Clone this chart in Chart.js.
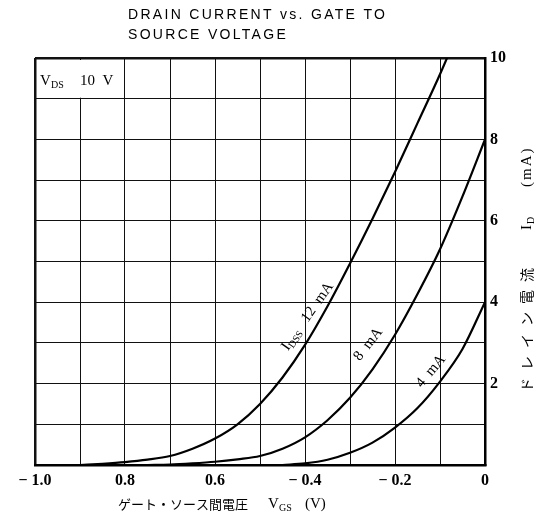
<!DOCTYPE html>
<html>
<head>
<meta charset="utf-8">
<script src="https://cdn.jsdelivr.net/npm/chart.js@4/dist/chart.umd.min.js"></script>
<style>
  html, body { margin: 0; padding: 0; background: #fff; }
  #wrap { width: 539px; height: 517px; }
</style>
</head>
<body>
<div id="wrap"><canvas id="myChart" width="539" height="517"></canvas></div>
<script>
// gate-source voltage (V) and drain current (mA)
const vgs = [-1.0, -0.95, -0.9, -0.85, -0.8, -0.75, -0.7, -0.65, -0.6, -0.55, -0.5,
  -0.45, -0.4, -0.35, -0.3, -0.25, -0.2, -0.15, -0.1, -0.05, 0];
const id12 = [null, null, 0, 0.03, 0.07, 0.13, 0.22, 0.4, 0.65, 1.0, 1.5,
  2.15, 2.95, 3.9, 4.95, 6.05, 7.2, 8.4, 9.6, 10.9, null];
const id8 = [null, null, null, null, null, 0, 0.01, 0.04, 0.08, 0.14, 0.22,
  0.4, 0.68, 1.1, 1.65, 2.35, 3.2, 4.2, 5.3, 6.6, 8.0];
const id4 = [null, null, null, null, null, null, null, null, null, null, null,
  0, 0.04, 0.13, 0.3, 0.55, 0.92, 1.4, 2.05, 2.85, 4.0];

const xTickLabels = { "-1.0": "\u2212 1.0", "-0.8": "0.8", "-0.6": "0.6", "-0.4": "\u2212 0.4", "-0.2": "\u2212 0.2", "0.0": "0" };
const yTickLabels = ["", "", "2", "", "4", "", "6", "", "8", "", "10"];

const serif = "'Liberation Serif', 'DejaVu Serif', serif";
const jp = "'Noto Sans CJK JP', sans-serif";

const toPoints = (ys) => vgs.map((v, i) => ({ x: v, y: ys[i] })).filter((p) => p.y !== null);

const curve = (label, ys) => ({
  label: label,
  data: toPoints(ys),
  borderColor: "#000",
  borderWidth: 2.2,
  pointRadius: 0,
  fill: false,
  cubicInterpolationMode: "monotone",
});

// text drawn on top: title, axis names, curve labels
const textPlugin = {
  id: "texts",
  afterDraw(chart) {
    const ctx = chart.ctx;
    const xs = chart.scales.x;
    const ys = chart.scales.y;
    ctx.save();
    ctx.fillStyle = "#000";

    // title
    ctx.font = "14px 'Liberation Sans', Arial, sans-serif";
    ctx.letterSpacing = "2.3px";
    ctx.textBaseline = "middle";
    ctx.textAlign = "left";
    ctx.fillText("DRAIN CURRENT vs. GATE TO", 128, 15);
    ctx.fillText("SOURCE VOLTAGE", 128, 35);
    ctx.letterSpacing = "0px";

    // V_DS box
    const bx = xs.getPixelForValue(-1.0) + 1;
    const by = ys.getPixelForValue(10) + 1;
    ctx.fillStyle = "#fff";
    ctx.fillRect(bx + 1, by + 1, xs.getPixelForValue(-0.8) - bx - 2, ys.getPixelForValue(9) - by - 2);
    ctx.fillStyle = "#000";
    ctx.font = "15px " + serif;
    ctx.fillText("V", bx + 4, by + 22);
    ctx.font = "10px " + serif;
    ctx.fillText("DS", bx + 15, by + 26);
    ctx.font = "15px " + serif;
    ctx.fillText("10  V", bx + 44, by + 22);

    // x axis name
    ctx.font = "13px " + jp;
    ctx.textAlign = "left";
    ctx.fillText("ゲート・ソース間電圧", 118, 504);
    ctx.font = "15px " + serif;
    ctx.fillText("V", 268, 504);
    ctx.font = "10px " + serif;
    ctx.fillText("GS", 279, 508);
    ctx.font = "15px " + serif;
    ctx.fillText("(V)", 305, 504);

    // y axis name (reads bottom to top)
    ctx.save();
    ctx.translate(527, 392);
    ctx.rotate(-Math.PI / 2);
    ctx.font = "14px " + jp;
    ctx.letterSpacing = "8px";
    ctx.fillText("ドレイン電流", 0, 0);
    ctx.letterSpacing = "0px";
    ctx.font = "15px " + serif;
    ctx.fillText("I", 162, 0);
    ctx.font = "10px " + serif;
    ctx.fillText("D", 168, 4);
    ctx.font = "15px " + serif;
    ctx.letterSpacing = "2px";
    ctx.fillText("(mA)", 205, 0);
    ctx.restore();

    // curve labels
    const tag = (x, y, angle, parts) => {
      ctx.save();
      ctx.translate(xs.getPixelForValue(x), ys.getPixelForValue(y));
      ctx.rotate(angle * Math.PI / 180);
      ctx.textAlign = "left";
      let cx = 0;
      parts.forEach(([txt, size, dy]) => {
        ctx.font = size + "px " + serif;
        ctx.fillText(txt, cx, dy);
        cx += ctx.measureText(txt).width;
      });
      ctx.restore();
    };
    tag(-0.445, 2.85, -55, [["I", 15, 0], ["DSS", 10, 4], ["   12  mA", 15, 0]]);
    tag(-0.285, 2.6, -52, [["8  mA", 15, 0]]);
    tag(-0.147, 1.95, -50, [["4  mA", 15, 0]]);

    ctx.restore();
  },
};

const ctx = document.getElementById("myChart");
const myChart = new Chart(ctx, {
  type: "line",
  data: {
    datasets: [curve("IDSS 12 mA", id12), curve("8 mA", id8), curve("4 mA", id4)],
  },
  options: {
    responsive: false,
    devicePixelRatio: 1,
    animation: false,
    layout: { padding: { left: 35, top: 58, right: 0, bottom: 0 } },
    plugins: {
      legend: { display: false },
      tooltip: { enabled: false },
    },
    scales: {
      x: {
        type: "linear",
        position: "bottom",
        min: -1,
        max: 0,
        afterFit: (s) => { s.height = 52; },
        afterBuildTicks: (s) => {
          s.ticks = [];
          for (let i = -10; i <= 0; i++) s.ticks.push({ value: i / 10 });
        },
        ticks: {
          autoSkip: false,
          maxRotation: 0,
          padding: 6,
          color: "#000",
          font: { family: serif, size: 16, weight: "bold" },
          callback: (v) => xTickLabels[Number(v).toFixed(1)] || "",
        },
        grid: {
          color: "#111",
          lineWidth: (c) => (c.tick && c.tick.value === -1 ? 2.5 : 1),
          drawTicks: false,
        },
        border: { display: true, color: "#000", width: 2.5 },
      },
      y: {
        position: "right",
        min: 0,
        max: 10,
        afterFit: (s) => { s.width = 54; },
        ticks: {
          stepSize: 1,
          padding: 5,
          color: "#000",
          font: { family: serif, size: 16, weight: "bold" },
          callback: (v) => yTickLabels[v] || "",
        },
        grid: {
          color: "#111",
          lineWidth: (c) => (c.tick && c.tick.value === 10 ? 2.5 : 1),
          drawTicks: false,
        },
        border: { display: true, color: "#000", width: 2.5 },
      },
    },
  },
  plugins: [textPlugin],
});
</script>
</body>
</html>
